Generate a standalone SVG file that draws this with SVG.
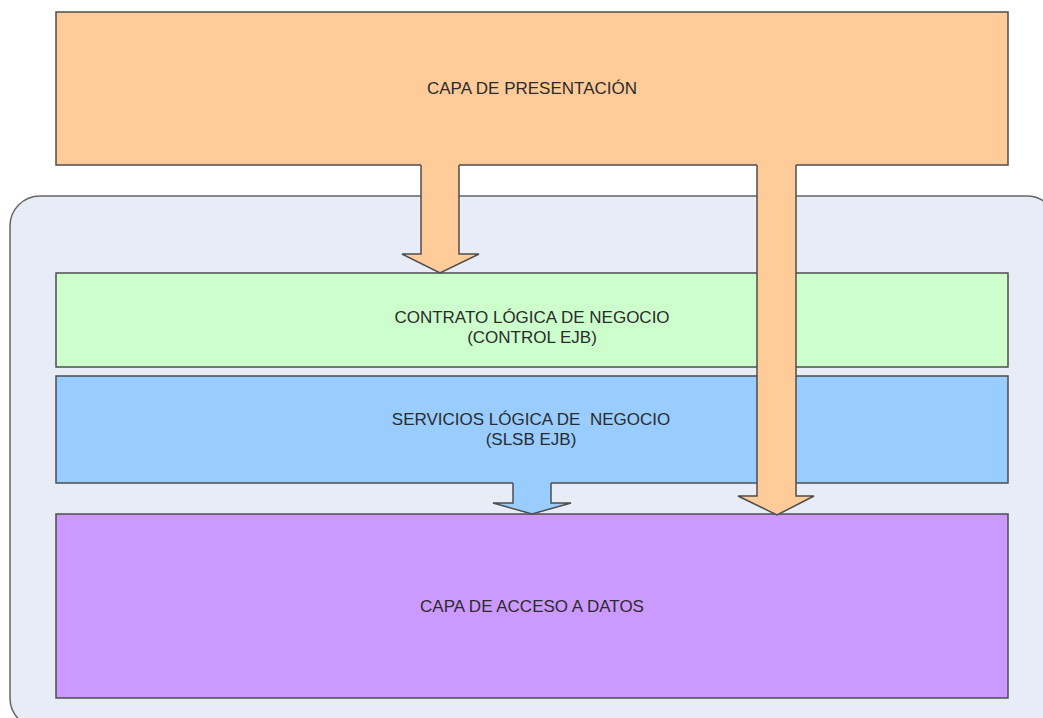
<svg xmlns="http://www.w3.org/2000/svg" width="1043" height="718" viewBox="0 0 1043 718">
  <style>
    .box { stroke: #4d4d4d; stroke-width: 1.5; }
    .edge { fill: none; stroke: #4d4d4d; stroke-width: 1.5; stroke-linejoin: miter; }
    .label { font-family: "Liberation Sans", Arial, sans-serif; font-size: 17px; fill: #2b2b2b; text-anchor: middle; white-space: pre; }
  </style>
  <rect width="1043" height="718" fill="#ffffff"/>

  <!-- business tier container -->
  <g id="container">
    <rect x="10" y="196" width="1047" height="532" rx="30" ry="30" fill="#e8ecf6" stroke="#666666" stroke-width="1.5"/>
  </g>

  <g id="presentacion">
    <rect class="box" x="56" y="12" width="952" height="153" fill="#ffcc99"/>
    <text class="label" x="532" y="94">CAPA DE PRESENTACIÓN</text>
  </g>

  <g id="contrato">
    <rect class="box" x="56" y="273" width="952" height="94" fill="#ccffcc"/>
    <text class="label" x="532" y="323">CONTRATO LÓGICA DE NEGOCIO</text>
    <text class="label" x="532" y="343">(CONTROL EJB)</text>
  </g>

  <g id="servicios">
    <rect class="box" x="56" y="376" width="952" height="107" fill="#99ccff"/>
    <text class="label" x="531" y="425">SERVICIOS LÓGICA DE  NEGOCIO</text>
    <text class="label" x="531" y="445">(SLSB EJB)</text>
  </g>

  <g id="acceso">
    <rect class="box" x="56" y="514" width="952" height="184" fill="#cc99ff"/>
    <text class="label" x="532" y="612">CAPA DE ACCESO A DATOS</text>
  </g>

  <!-- block arrows between tiers -->
  <g id="connectors">
    <!-- presentation to contract -->
    <path d="M421,164 L421,254 L402,254 L440,273 L479,254 L459,254 L459,164 Z" fill="#ffcc99"/>
    <path class="edge" d="M421,165 L421,254 L402,254 L440,273 L479,254 L459,254 L459,165"/>
    <!-- presentation straight to data access -->
    <path d="M757,164 L757,496 L738,496 L777,515 L814,496 L796,496 L796,164 Z" fill="#ffcc99"/>
    <path class="edge" d="M757,165 L757,496 L738,496 L777,515 L814,496 L796,496 L796,165"/>
    <!-- services to data access -->
    <path d="M513,482 L513,503 L493,503 L532,514 L571,503 L551,503 L551,482 Z" fill="#99ccff"/>
    <path class="edge" d="M513,483 L513,503 L493,503 L532,514 L571,503 L551,503 L551,483"/>
  </g>
</svg>
